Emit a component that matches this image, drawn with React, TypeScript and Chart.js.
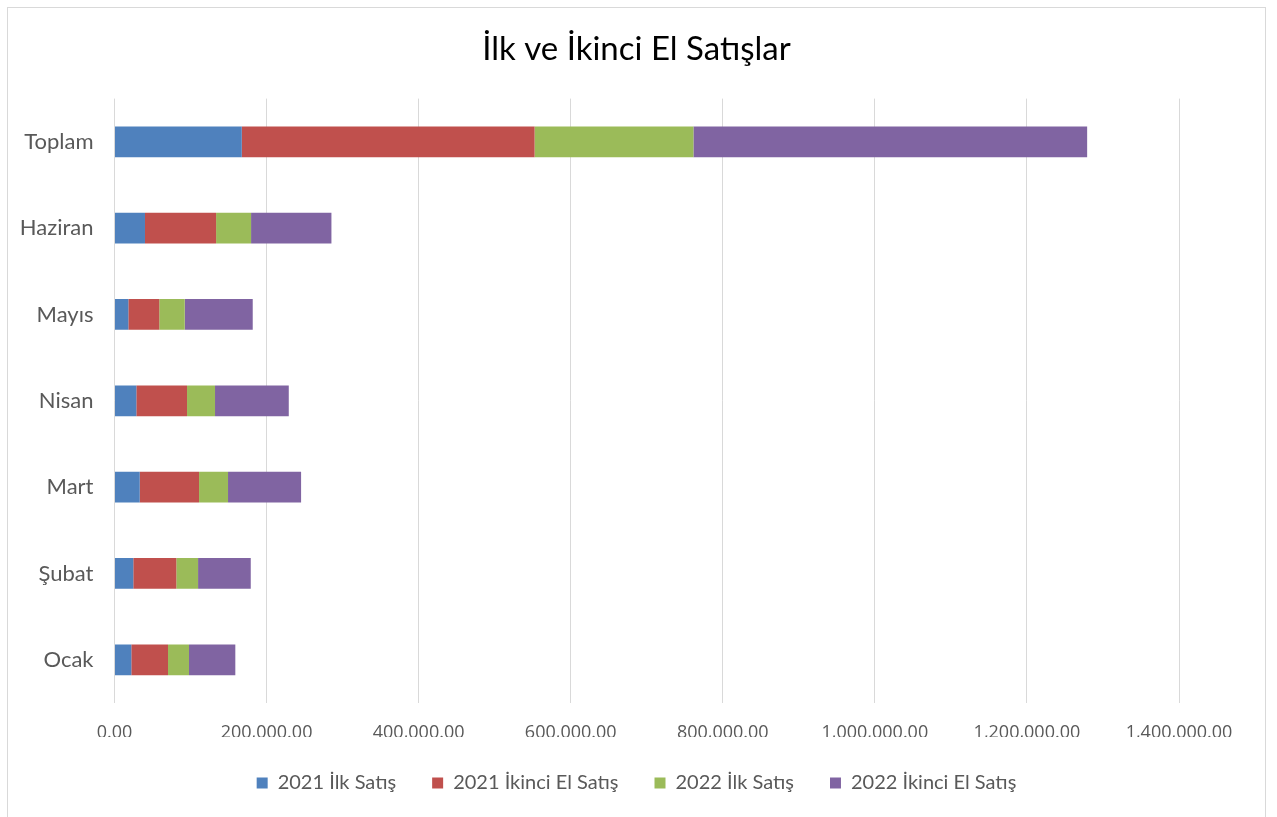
import React, { useEffect, useRef } from "react";
import { Chart, registerables } from "chart.js";

Chart.register(...registerables);

const categories = ["Ocak", "Şubat", "Mart", "Nisan", "Mayıs", "Haziran", "Toplam"];
const seriesNames = ["2021 İlk Satış", "2021 İkinci El Satış", "2022 İlk Satış", "2022 İkinci El Satış"];
const ilk2021 = [22100, 24700, 33200, 28700, 18200, 40100, 167400];
const ikinci2021 = [48300, 56600, 78000, 66700, 40700, 93500, 385100];
const ilk2022 = [27600, 28600, 38100, 36800, 33500, 46000, 208900];
const ikinci2022 = [60900, 69300, 96100, 97000, 89400, 105700, 517800];
const xTicks = [0, 200000, 400000, 600000, 800000, 1000000, 1200000, 1400000];
const colors = ["#4F81BD", "#C0504D", "#9BBB59", "#8064A2"];

const FONT = "Lato";

export default function App() {
  const ref = useRef<HTMLCanvasElement | null>(null);

  useEffect(() => {
    document.body.style.overflow = "hidden";
    const canvas = ref.current;
    if (!canvas) return;
    const seriesData = [ilk2021, ikinci2021, ilk2022, ikinci2022];
    const chart = new Chart(canvas, {
      type: "bar",
      data: {
        labels: categories,
        datasets: seriesData.map((d, i) => ({
          label: seriesNames[i],
          data: d,
          backgroundColor: colors[i],
          borderWidth: 0,
          categoryPercentage: 1,
          barPercentage: 0.356,
        })),
      },
      options: {
        indexAxis: "y",
        animation: false,
        responsive: false,
        maintainAspectRatio: false,
        layout: { padding: { top: 0, left: 0, right: 0, bottom: 17 } },
        scales: {
          x: {
            stacked: true,
            min: 0,
            max: 1400000,
            afterBuildTicks: (scale: any) => {
              scale.ticks = xTicks.map((v) => ({ value: v }));
            },
            afterFit: (scale: any) => {
              scale.height = 34;
            },
            grid: { color: "#d9d9d9", lineWidth: 1, drawTicks: false },
            border: { display: false },
            ticks: {
              padding: 19,
              color: "#595959",
              font: { family: "Open Sans", size: 18 },
              callback: (v: any) =>
                Number(v).toLocaleString("en-US", { minimumFractionDigits: 2, maximumFractionDigits: 2 }),
            },
          },
          y: {
            stacked: true,
            reverse: true,
            afterFit: (scale: any) => {
              scale.width = 106.5;
            },
            grid: { display: false, drawTicks: false },
            border: { display: false },
            ticks: {
              padding: 21,
              color: "#595959",
              font: { family: FONT, size: 22 },
            },
          },
          yRight: {
            type: "category",
            position: "right",
            display: true,
            afterFit: (scale: any) => {
              scale.width = 86;
            },
            grid: { display: false, drawTicks: false },
            border: { display: false },
            ticks: { display: false },
          },
        },
        plugins: {
          title: {
            display: true,
            text: "İlk ve İkinci El Satışlar",
            color: "#000000",
            font: { family: FONT, size: 33, weight: "normal" },
            padding: { top: 22, bottom: 29 },
          },
          legend: {
            position: "bottom",
            labels: {
              boxWidth: 11,
              boxHeight: 11,
              padding: 36,
              color: "#595959",
              font: { family: FONT, size: 20 },
            },
          },
          tooltip: { enabled: false },
        },
      },
    });
    return () => chart.destroy();
  }, []);

  return (
    <div
      style={{
        position: "absolute",
        left: 7,
        top: 7,
        width: 1257,
        height: 812,
        border: "1px solid #d9d9d9",
        background: "#fff",
      }}
    >
      <canvas ref={ref} width={1257} height={812} style={{ display: "block", width: 1257, height: 812 }} />
    </div>
  );
}
